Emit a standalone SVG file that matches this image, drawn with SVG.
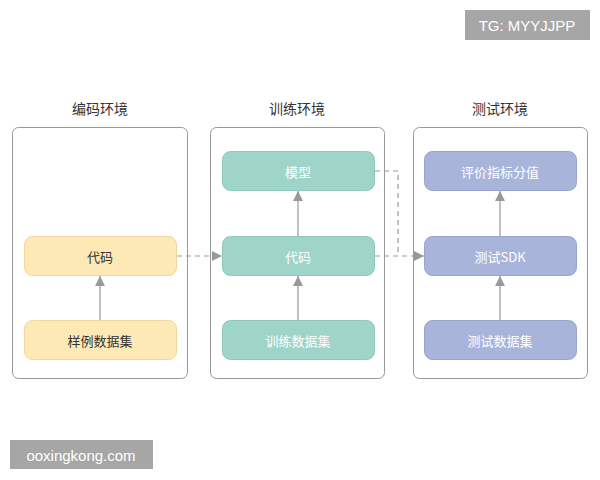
<svg xmlns="http://www.w3.org/2000/svg" width="600" height="480" viewBox="0 0 600 480">
<defs>
<marker id="ar" viewBox="0 0 10 10" refX="10" refY="5" markerWidth="10" markerHeight="10" markerUnits="userSpaceOnUse" orient="auto"><path d="M0,0L10,5L0,10z" fill="#999"/></marker>
<style>
text{font-family:"Noto Sans CJK SC","Liberation Sans",sans-serif;text-anchor:middle;dominant-baseline:central}
.env{fill:#fff;stroke:#999;stroke-width:1}
.t{font-size:14px;fill:#333}
.nt{font-size:13px;fill:#fff}
.y{fill:#fde9b6;stroke:#f0d89a}
.g{fill:#9fd4c9;stroke:#8fc8bc}
.b{fill:#a9b4da;stroke:#98a4cf}
.nt2{font-size:13px;fill:#333}
.c{stroke:#999;stroke-width:1.2;fill:none}
</style>
</defs>
<rect x="465" y="10" width="125" height="30" fill="#a6a6a6"/>
<text x="527" y="25" font-size="15" fill="#fff" style="font-family:'Liberation Sans',sans-serif">TG: MYYJJPP</text>
<rect x="10" y="440" width="143" height="29" fill="#a6a6a6"/>
<text x="81" y="455" font-size="15" fill="#fff" style="font-family:'Liberation Sans',sans-serif">ooxingkong.com</text>
<g id="env1"><text class="t" x="100" y="108">编码环境</text><rect class="env" x="12.5" y="127.5" width="175" height="251" rx="6"/></g>
<g id="env2"><text class="t" x="297" y="108">训练环境</text><rect class="env" x="210.5" y="127.5" width="174" height="251" rx="6"/></g>
<g id="env3"><text class="t" x="500" y="108">测试环境</text><rect class="env" x="413.5" y="127.5" width="174" height="251" rx="6"/></g>
<g id="code1"><rect class="y" x="24.5" y="236.5" width="152" height="39" rx="8"/><text class="nt2" x="100" y="256">代码</text></g>
<g id="sample"><rect class="y" x="24.5" y="320.5" width="152" height="39" rx="8"/><text class="nt2" x="100" y="340">样例数据集</text></g>
<g id="model"><rect class="g" x="222.5" y="151.5" width="152" height="39" rx="8"/><text class="nt" x="298" y="171">模型</text></g>
<g id="code2"><rect class="g" x="222.5" y="236.5" width="152" height="39" rx="8"/><text class="nt" x="298" y="256">代码</text></g>
<g id="train"><rect class="g" x="222.5" y="320.5" width="152" height="39" rx="8"/><text class="nt" x="298" y="340">训练数据集</text></g>
<g id="score"><rect class="b" x="424.5" y="151.5" width="152" height="39" rx="8"/><text class="nt" x="500" y="171">评价指标分值</text></g>
<g id="sdk"><rect class="b" x="424.5" y="236.5" width="152" height="39" rx="8"/><text class="nt" x="500" y="256">测试SDK</text></g>
<g id="test"><rect class="b" x="424.5" y="320.5" width="152" height="39" rx="8"/><text class="nt" x="500" y="340">测试数据集</text></g>
<g id="connectors">
<path class="c" d="M100,320V276" marker-end="url(#ar)"/>
<path class="c" d="M298,320V276" marker-end="url(#ar)"/>
<path class="c" d="M298,236V191" marker-end="url(#ar)"/>
<path class="c" d="M500,320V276" marker-end="url(#ar)"/>
<path class="c" d="M500,236V191" marker-end="url(#ar)"/>
<path class="c" d="M177,256H222" stroke-dasharray="5,4" marker-end="url(#ar)"/>
<path class="c" d="M375,256H424" stroke-dasharray="5,4" marker-end="url(#ar)"/>
<path class="c" d="M375,171H398V256" stroke-dasharray="5,4"/>
</g>
</svg>
